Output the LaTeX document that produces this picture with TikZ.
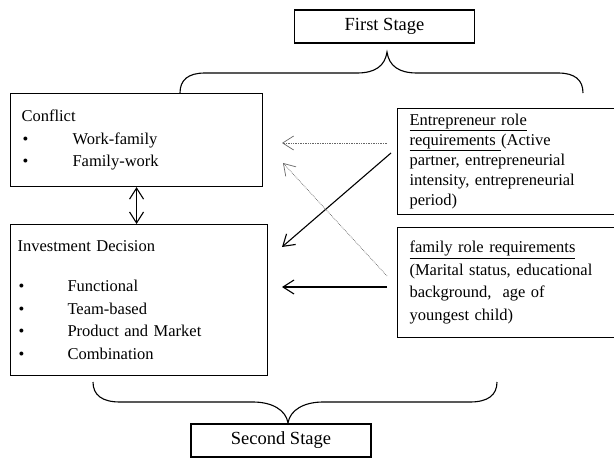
\documentclass[tikz,border=0pt]{standalone}
\usepackage{fontspec}
\setmainfont{Liberation Serif}
\usepackage{tikz}
\usetikzlibrary{calc}
\usetikzlibrary{arrows.meta}

\newcommand{\bodysize}{\fontsize{16.5}{22.5}\selectfont}
\newcommand{\stagesize}{\fontsize{18.5}{22}\selectfont}
\newcommand{\itm}[2][51pt]{\makebox[#1][l]{\hspace{1pt}\textbullet}#2}

\tikzset{
 stagebox/.style={rectangle, draw, line width=1.1pt, minimum width=180pt, minimum height=33pt, inner sep=0pt, font=\stagesize},
 rolebox/.style={rectangle, draw, line width=1.1pt, anchor=north west, align=left, inner ysep=0pt, font=\bodysize},
 link/.style={->, line width=1.1pt},
 weaklink/.style={->, line width=0.7pt, draw=black!60, densely dotted},
 stagebrace/.style={line width=1.1pt}
}

\begin{document}
\begin{tikzpicture}[x=1pt, y=-1pt, >={Straight Barb[length=11pt,width=14pt]}]
 \clip (0,0) rectangle (614,458);
 % stages
 \node [stagebox] (first) at (384.5,26.5) {First Stage};
 \node [stagebox] (second) at (281,440.5) {Second Stage};
 % left boxes
 \node [rolebox, minimum height=93pt, inner xsep=11pt, text width=230pt] (conflict) at (10,93)
  {Conflict\\ \itm{Work-family}\\ \itm{Family-work}};
 \node [rolebox, minimum height=151pt, inner xsep=7pt, text width=243pt] (invest) at (10,224)
  {Investment Decision\\[18pt] \itm[50pt]{Functional}\\ \itm[50pt]{Team-based}\\
   \itm[50pt]{Product and Market}\\ \itm[50pt]{Combination}};
 % right boxes
 \node [rolebox, minimum height=106pt, inner xsep=12pt, text width=210pt, font={\fontsize{16.5}{20}\selectfont}] (entre) at (397,108)
  {\underline{Entrepreneur role}\\ \underline{requirements\ }(Active\\ partner, entrepreneurial\\
   intensity, entrepreneurial\\ period)};
 \node [rolebox, minimum height=110pt, inner xsep=12pt, text width=210pt] (family) at (397,227)
  {\underline{family role requirements}\\ (Marital status, educational\\ background,\ \ age of\\ youngest child)};
 % arrow ends
 \coordinate (entreA) at (387,143);
 \coordinate (conflictA) at (282,143);
 \coordinate (entreB) at (391,153);
 \coordinate (investA) at (282,247);
 \coordinate (familyA) at (387,276);
 \coordinate (conflictB) at (283,163);
 \coordinate (familyB) at (387,287);
 \coordinate (investB) at (282,287);
 \draw [weaklink] (entreA) to (conflictA);
 \draw [link] (entreB) to (investA);
 \draw [weaklink] (familyA) to (conflictB);
 \draw [link] (familyB) to (investB);
 \draw [link, <->] (conflict.south) to (conflict.south |- invest.north);
 % braces
 \draw [stagebrace] (180,93) .. controls (180,80) and (188,73) .. (205,73) -- (357,73)
  .. controls (375,73) and (385,66) .. (387,52) .. controls (389,66) and (399,73) .. (417,73)
  -- (558,73) .. controls (575,73) and (583,80) .. (583,93);
 \draw [stagebrace] (93,382) .. controls (93,395) and (102,402) .. (120,402) -- (253,402)
  .. controls (272,402) and (286,410) .. (288,423) .. controls (290,410) and (304,402) .. (323,402)
  -- (470,402) .. controls (488,402) and (497,395) .. (497,382);
\end{tikzpicture}
\end{document}
